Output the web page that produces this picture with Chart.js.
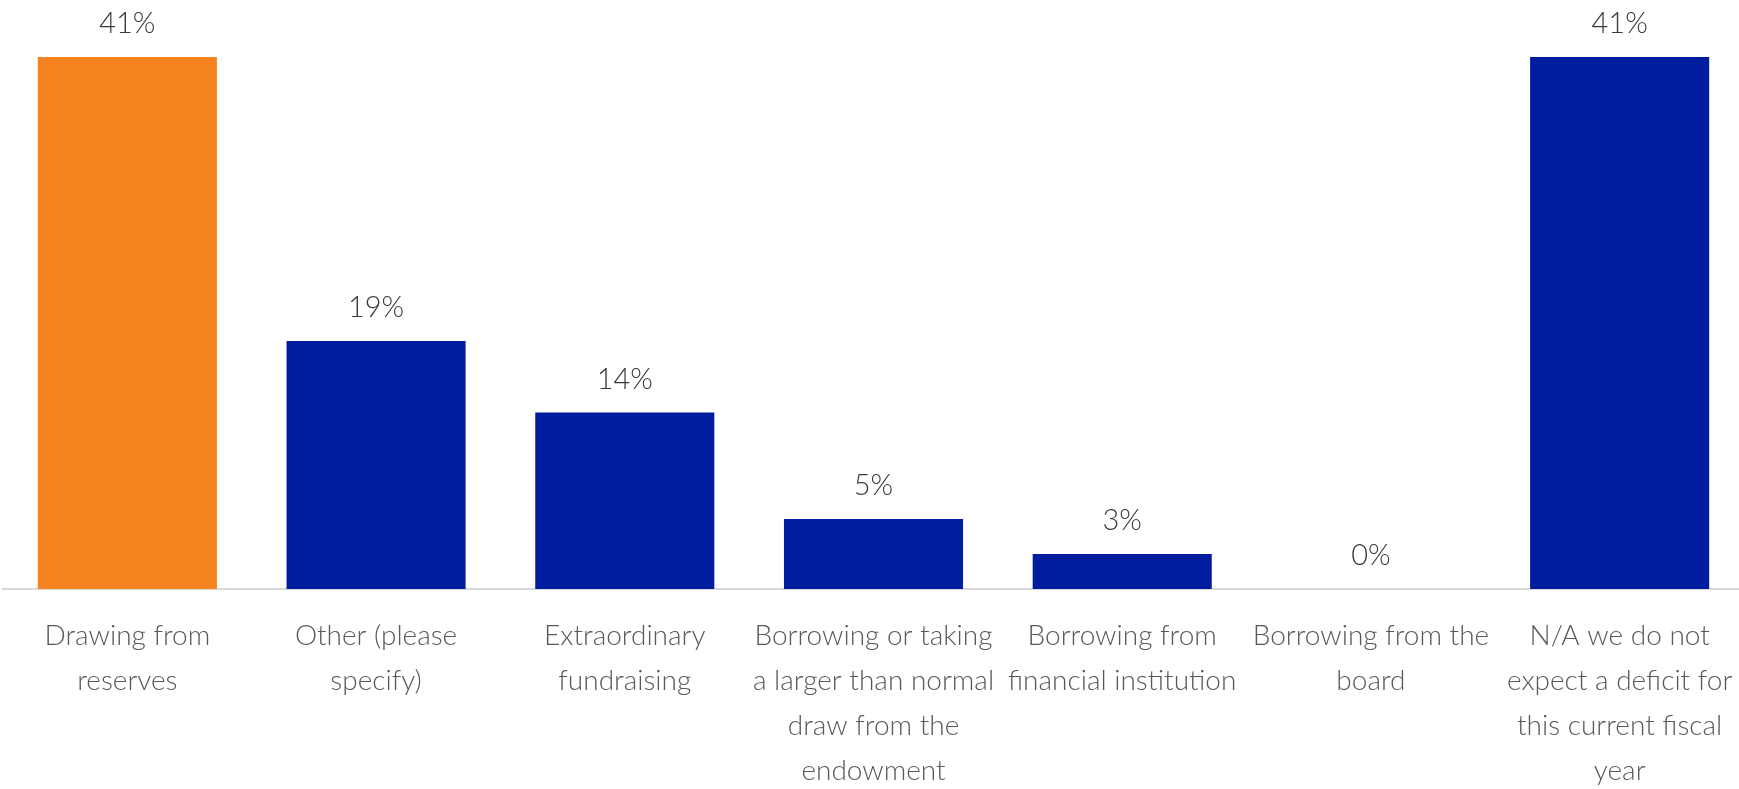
<!DOCTYPE html>
<html>
<head>
<meta charset="utf-8">
<script src="https://cdn.jsdelivr.net/npm/chart.js@4.4.1/dist/chart.umd.min.js"></script>
<style>
  html, body { margin: 0; padding: 0; background: #ffffff; overflow: hidden; }
  #wrap { position: absolute; left: 0; top: 0; width: 1744px; height: 789px; }
</style>
</head>
<body>
<div id="wrap"><canvas id="c"></canvas></div>
<script>
// Categories (wrapped as in the reference)
const categories = [
  ["Drawing from", "reserves"],
  ["Other (please", "specify)"],
  ["Extraordinary", "fundraising"],
  ["Borrowing or taking", "a larger than normal", "draw from the", "endowment"],
  ["Borrowing from", "financial institution"],
  ["Borrowing from the", "board"],
  ["N/A we do not", "expect a deficit for", "this current fiscal", "year"]
];
// Percent of respondents (bar heights)
const values = [41, 19.1, 13.6, 5.4, 2.7, 0, 41];
// Printed labels above bars
const valueLabels = ["41%", "19%", "14%", "5%", "3%", "0%", "41%"];
// Bar colours
const barColors = ["#F5821F", "#001DA0", "#001DA0", "#001DA0", "#001DA0", "#001DA0", "#001DA0"];

const valueLabelPlugin = {
  id: 'valueLabels',
  afterDatasetsDraw(chart) {
    const ctx = chart.ctx;
    const meta = chart.getDatasetMeta(0);
    ctx.save();
    ctx.font = '300 29px Lato';
    ctx.fillStyle = '#3A3A3A';
    ctx.textAlign = 'center';
    ctx.textBaseline = 'alphabetic';
    meta.data.forEach((bar, i) => {
      ctx.fillText(valueLabels[i], bar.x, bar.y - 24);
    });
    ctx.restore();
  }
};

new Chart(document.getElementById('c'), {
  type: 'bar',
  data: {
    labels: categories,
    datasets: [{
      data: values,
      backgroundColor: barColors,
      borderWidth: 0,
      categoryPercentage: 1.0,
      barPercentage: 0.72
    }]
  },
  options: {
    responsive: true,
    maintainAspectRatio: false,
    animation: false,
    devicePixelRatio: 1,
    layout: { padding: { left: 3, right: 0, top: 5, bottom: 0 } },
    plugins: { legend: { display: false }, tooltip: { enabled: false } },
    scales: {
      y: {
        display: false,
        min: 0,
        max: 45
      },
      x: {
        grid: { display: false, drawTicks: false },
        border: { display: true, color: '#D9D9D9', width: 2 },
        ticks: {
          color: '#595959',
          font: { family: 'Lato', size: 28, weight: '300', lineHeight: '45px' },
          padding: 24,
          maxRotation: 0,
          autoSkip: false
        },
        afterFit(scale) {
          scale.height = 200;
          scale.paddingLeft = 0;
          scale.paddingRight = 0;
        }
      }
    }
  },
  plugins: [valueLabelPlugin]
});
</script>
</body>
</html>
